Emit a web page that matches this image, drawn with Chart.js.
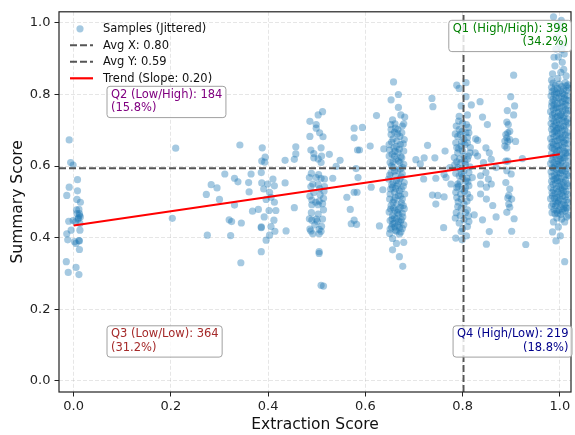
<!DOCTYPE html>
<html>
<head>
<meta charset="utf-8">
<script src="https://cdn.jsdelivr.net/npm/chart.js@4.4.1/dist/chart.umd.min.js"></script>
<style>
  html, body { margin: 0; padding: 0; background: #fff; }
  #wrap { width: 575px; height: 435px; }
</style>
</head>
<body>
<div id="wrap"><canvas id="chart"></canvas></div>
<script>
//
// DATA (x = extraction score, y = summary score, jittered)
//
const col_00 = [
    [-0.009,0.673],[-0.006,0.610],[-0.001,0.603],[0.008,0.562],[-0.009,0.541],[0.008,0.531],
    [-0.014,0.518],[0.007,0.507],[0.014,0.499],[0.011,0.479],[0.007,0.467],[0.012,0.467],
    [0.014,0.458],[0.009,0.452],[-0.010,0.446],[-0.001,0.448],[0.004,0.444],[-0.005,0.421],
    [0.013,0.421],[-0.014,0.411],[-0.012,0.394],[0.002,0.389],[0.012,0.391],[0.005,0.384],
    [0.012,0.367],[-0.015,0.333],[0.005,0.317],[-0.011,0.303],[0.011,0.297],[0.010,0.455],
    [0.013,0.440],[0.006,0.478],[0.012,0.462],[0.011,0.392]
];
const col_scattered = [
    [0.210,0.650],[0.342,0.659],[0.203,0.454],[0.311,0.578],[0.283,0.548],[0.295,0.539],
    [0.273,0.521],[0.300,0.507],[0.331,0.566],[0.338,0.556],[0.365,0.578],[0.360,0.554],
    [0.361,0.528],[0.331,0.491],[0.368,0.474],[0.320,0.450],[0.325,0.445],[0.345,0.441],
    [0.275,0.407],[0.323,0.406],[0.344,0.330]
];
const col_40 = [
    [0.388,0.651],[0.394,0.625],[0.387,0.614],[0.393,0.611],[0.457,0.654],[0.457,0.634],
    [0.454,0.619],[0.435,0.616],[0.386,0.582],[0.387,0.553],[0.399,0.550],[0.410,0.564],
    [0.413,0.545],[0.391,0.536],[0.403,0.527],[0.406,0.513],[0.435,0.553],[0.396,0.507],
    [0.413,0.499],[0.380,0.479],[0.402,0.476],[0.416,0.476],[0.454,0.484],[0.392,0.458],
    [0.412,0.449],[0.386,0.430],[0.406,0.431],[0.386,0.428],[0.414,0.418],[0.437,0.419],
    [0.403,0.407],[0.396,0.393],[0.386,0.361]
];
const col_50 = [
    [0.512,0.752],[0.503,0.743],[0.486,0.725],[0.499,0.716],[0.499,0.706],[0.506,0.693],
    [0.486,0.683],[0.513,0.682],[0.488,0.645],[0.509,0.651],[0.526,0.633],[0.494,0.623],
    [0.503,0.620],[0.509,0.610],[0.485,0.568],[0.499,0.568],[0.509,0.566],[0.516,0.564],
    [0.533,0.566],[0.492,0.550],[0.503,0.548],[0.488,0.543],[0.516,0.543],[0.506,0.537],
    [0.486,0.516],[0.514,0.510],[0.490,0.505],[0.505,0.502],[0.498,0.499],[0.512,0.495],
    [0.503,0.492],[0.490,0.492],[0.485,0.453],[0.499,0.452],[0.512,0.452],[0.490,0.449],
    [0.501,0.446],[0.486,0.424],[0.505,0.423],[0.488,0.419],[0.509,0.418],[0.505,0.411],
    [0.492,0.411],[0.505,0.361],[0.505,0.356],[0.509,0.267],[0.514,0.265],
    [0.494,0.635],[0.510,0.628],[0.489,0.580],[0.504,0.576],[0.515,0.530],[0.494,0.526],
    [0.507,0.520],[0.489,0.470],[0.503,0.466],[0.514,0.478],[0.496,0.436],[0.510,0.432]
];
const col_mid = [
    [0.577,0.706],[0.577,0.679],[0.594,0.708],[0.584,0.645],[0.588,0.645],[0.581,0.593],
    [0.585,0.568],[0.577,0.527],[0.583,0.527],[0.562,0.513],[0.569,0.479],[0.577,0.449],
    [0.571,0.439],[0.582,0.437],[0.540,0.599],[0.548,0.616],[0.623,0.741],[0.610,0.656],
    [0.629,0.433],[0.612,0.541],[0.636,0.534],[0.638,0.648]
];
const col_67 = [
    [0.658,0.835],[0.653,0.785],[0.668,0.800],[0.668,0.764],[0.673,0.743],[0.681,0.737],
    [0.656,0.729],[0.679,0.718],[0.661,0.718],
    [0.653,0.702],[0.667,0.702],[0.675,0.693],[0.660,0.695],[0.653,0.688],[0.680,0.674],
    [0.665,0.670],[0.649,0.660],[0.672,0.660],[0.659,0.651],[0.679,0.642],[0.667,0.637],
    [0.655,0.633],[0.675,0.623],[0.663,0.619],[0.651,0.610],[0.671,0.610],[0.679,0.605],
    [0.658,0.596],[0.667,0.587],[0.653,0.582],[0.676,0.578],[0.662,0.573],[0.648,0.564],
    [0.671,0.564],[0.680,0.554],[0.657,0.554],[0.665,0.545],[0.652,0.536],[0.674,0.536],
    [0.660,0.527],[0.681,0.522],[0.668,0.518],[0.650,0.508],[0.676,0.508],[0.657,0.499],
    [0.665,0.494],[0.653,0.490],[0.672,0.485],[0.680,0.481],[0.661,0.476],[0.649,0.472],
    [0.669,0.466],[0.656,0.462],[0.677,0.458],[0.664,0.453],[0.651,0.448],[0.672,0.444],
    [0.659,0.440],[0.667,0.435],[0.654,0.430],[0.676,0.426],[0.662,0.421],[0.650,0.412],
    [0.670,0.410],
    [0.662,0.706],[0.671,0.683],[0.657,0.676],[0.664,0.655],[0.650,0.645],[0.670,0.647],
    [0.660,0.628],[0.668,0.614],[0.654,0.601],[0.672,0.592],[0.664,0.560],[0.656,0.541],
    [0.670,0.531],[0.662,0.512],[0.674,0.497],[0.658,0.483],[0.666,0.470],[0.660,0.456],
    [0.674,0.450],[0.656,0.438],[0.670,0.428],[0.664,0.418],
    [0.652,0.716],[0.676,0.712],[0.666,0.690],[0.654,0.667],[0.678,0.662],[0.661,0.641],
    [0.649,0.628],[0.673,0.626],[0.657,0.612],[0.677,0.596],[0.660,0.586],[0.650,0.575],
    [0.674,0.570],[0.668,0.552],[0.654,0.548],[0.678,0.544],[0.662,0.537],[0.651,0.522],
    [0.672,0.516],[0.659,0.506],[0.678,0.490],[0.652,0.480],[0.667,0.478],[0.676,0.468],
    [0.655,0.452],[0.668,0.446],[0.679,0.436],[0.661,0.430],[0.651,0.424],[0.673,0.416],
    [0.656,0.398],[0.664,0.384],[0.679,0.387],[0.656,0.366],[0.670,0.347],[0.677,0.320]
];
const col_75 = [
    [0.737,0.789],[0.739,0.766],[0.728,0.658],[0.704,0.618],[0.713,0.606],[0.721,0.623],
    [0.743,0.623],[0.764,0.642],[0.720,0.564],[0.745,0.566],[0.762,0.577],[0.774,0.596],
    [0.766,0.568],[0.738,0.519],[0.749,0.518],[0.762,0.514],[0.745,0.494],[0.761,0.428],
    [0.776,0.550]
];
const col_80 = [
    [0.788,0.826],[0.793,0.817],[0.807,0.833],[0.797,0.768],[0.818,0.771],[0.807,0.794],
    [0.793,0.739],[0.810,0.743],[0.793,0.702],[0.799,0.697],[0.807,0.693],[0.813,0.693],
    [0.790,0.683],[0.803,0.674],[0.786,0.665],[0.810,0.665],[0.797,0.656],[0.815,0.637],
    [0.790,0.637],[0.803,0.628],[0.783,0.624],[0.810,0.619],[0.797,0.610],[0.790,0.596],
    [0.803,0.587],[0.813,0.582],[0.793,0.573],[0.807,0.559],[0.790,0.550],[0.813,0.545],
    [0.799,0.536],[0.786,0.527],[0.810,0.522],[0.797,0.508],[0.803,0.494],[0.790,0.487],
    [0.810,0.478],[0.793,0.441],[0.803,0.450],[0.813,0.445],[0.797,0.417],[0.786,0.399],
    [0.799,0.394],[0.810,0.431],
    [0.800,0.720],[0.787,0.712],[0.812,0.708],[0.795,0.688],[0.805,0.660],[0.792,0.648],
    [0.816,0.652],[0.800,0.642],[0.788,0.612],[0.806,0.604],[0.796,0.592],[0.815,0.598],
    [0.786,0.580],[0.800,0.570],[0.809,0.566],[0.795,0.556],[0.788,0.540],[0.804,0.530],
    [0.815,0.512],[0.791,0.500],[0.806,0.470],[0.795,0.462],[0.785,0.455],[0.800,0.425],
    [0.808,0.405],
    [0.792,0.726],[0.808,0.716],[0.785,0.690],[0.810,0.680],[0.798,0.668],[0.788,0.652],
    [0.812,0.628],[0.794,0.620],[0.805,0.612],[0.784,0.604],[0.798,0.578],[0.811,0.556],
    [0.791,0.544],[0.806,0.540],[0.796,0.522],[0.788,0.512],[0.809,0.502],[0.797,0.482],
    [0.787,0.470],[0.812,0.460]
];
const col_85 = [
    [0.836,0.780],[0.841,0.737],[0.851,0.716],[0.831,0.672],[0.827,0.676],[0.848,0.651],
    [0.855,0.637],[0.826,0.637],[0.831,0.628],[0.843,0.610],[0.869,0.596],[0.859,0.619],
    [0.837,0.573],[0.848,0.582],[0.820,0.568],[0.853,0.564],[0.837,0.550],[0.859,0.550],
    [0.849,0.541],[0.837,0.522],[0.849,0.508],[0.862,0.490],[0.824,0.464],[0.841,0.450],
    [0.869,0.458],[0.855,0.417],[0.849,0.382]
];
const col_90 = [
    [0.905,0.854],[0.899,0.794],[0.892,0.755],[0.905,0.743],[0.907,0.768],[0.891,0.723],
    [0.894,0.716],[0.889,0.688],[0.893,0.693],[0.891,0.679],[0.897,0.697],[0.887,0.670],
    [0.893,0.669],[0.897,0.674],[0.909,0.669],[0.887,0.656],[0.891,0.651],[0.889,0.614],
    [0.893,0.614],[0.923,0.621],[0.891,0.587],[0.900,0.578],[0.889,0.554],[0.897,0.536],
    [0.895,0.518],[0.893,0.511],[0.901,0.508],[0.895,0.494],[0.897,0.485],[0.891,0.471],
    [0.906,0.453],[0.901,0.418],[0.930,0.381]
];
const col_100_tails = [
    [0.987,1.017],[1.003,1.007],[0.995,0.996],[0.999,0.983],[0.994,0.960],[0.999,0.941],
    [1.009,0.941],[0.992,0.927],[0.988,0.904],[1.005,0.890],[1.009,0.913],[0.985,0.858],
    [0.996,0.845],[1.008,0.870],[0.990,0.880],[1.013,0.852],[0.983,0.840],[1.002,0.862],
    [0.997,0.905],[1.004,0.925],
    [0.987,0.444],[0.997,0.430],[1.010,0.444],[0.985,0.416],[0.992,0.391],[1.010,0.333],
    [1.004,0.452],[0.994,0.455],[1.014,0.458],[1.001,0.405]
];
const col_100_core = [
    [0.986,0.832],[0.999,0.829],[1.011,0.833],[1.017,0.827],[0.991,0.825],[1.004,0.822],[0.983,0.820],[1.013,0.824],
    [0.995,0.817],[1.008,0.815],[0.988,0.813],[1.018,0.818],[1.001,0.810],[0.984,0.808],[1.014,0.811],[0.993,0.806],
    [1.006,0.803],[0.989,0.801],[1.010,0.799],[0.997,0.804],[0.982,0.796],[1.003,0.794],[1.016,0.797],[0.992,0.792],
    [1.009,0.789],[0.986,0.787],[0.998,0.790],[1.013,0.785],[0.990,0.782],[1.005,0.780],[0.984,0.778],[1.017,0.783],
    [0.996,0.775],[1.011,0.773],[0.988,0.771],[1.002,0.776],[0.983,0.768],[1.007,0.766],[0.994,0.764],[1.015,0.769],
    [1.000,0.761],[0.987,0.759],[1.012,0.757],[0.992,0.762],[1.006,0.754],[0.981,0.752],[0.997,0.750],[1.018,0.755],
    [0.989,0.747],[1.003,0.745],[1.014,0.748],[0.985,0.743],[0.995,0.740],[1.009,0.738],[0.991,0.736],[1.001,0.741],
    [0.984,0.733],[1.016,0.731],[0.998,0.729],[1.007,0.734],[0.988,0.726],[1.012,0.724],[0.993,0.722],[1.004,0.727],
    [0.982,0.719],[0.999,0.717],[1.017,0.720],[0.990,0.715],[1.008,0.712],[0.986,0.710],[1.002,0.708],[1.013,0.713],
    [0.994,0.705],[0.983,0.703],[1.010,0.701],[0.997,0.706],[1.005,0.698],[0.989,0.696],[1.015,0.694],[0.992,0.699],
    [0.985,0.691],[1.001,0.689],[1.011,0.687],[0.996,0.692],[1.018,0.684],[0.988,0.682],[1.006,0.680],[0.993,0.685],
    [0.981,0.677],[0.999,0.675],[1.013,0.673],[1.003,0.678],[0.990,0.670],[1.008,0.668],[0.984,0.666],[0.995,0.671],
    [1.016,0.663],[0.987,0.661],[1.002,0.659],[1.010,0.664],[0.994,0.656],[0.982,0.654],[1.006,0.652],[0.998,0.657],
    [1.014,0.649],[0.989,0.647],[1.000,0.645],[0.985,0.650],[1.009,0.642],[0.993,0.640],[1.017,0.638],[0.996,0.643],
    [0.983,0.635],[1.004,0.633],[0.991,0.631],[1.012,0.636],[0.999,0.628],[0.986,0.626],[1.007,0.624],[1.015,0.629],
    [0.992,0.621],[1.001,0.619],[0.984,0.617],[1.010,0.622],[0.997,0.614],[1.018,0.612],[0.988,0.610],[1.005,0.615],
    [0.981,0.607],[0.995,0.605],[1.013,0.603],[1.002,0.608],[0.990,0.600],[1.008,0.598],[0.985,0.596],[0.999,0.601],
    [1.016,0.593],[0.993,0.591],[1.004,0.589],[0.987,0.594],[1.011,0.586],[0.982,0.584],[0.998,0.582],[1.006,0.587],
    [0.994,0.579],[1.014,0.577],[0.989,0.575],[1.001,0.580],[0.984,0.572],[1.009,0.570],[0.996,0.568],[1.017,0.573],
    [1.003,0.565],[0.988,0.563],[1.012,0.561],[0.992,0.566],[0.983,0.558],[1.000,0.556],[1.007,0.554],[0.995,0.559],
    [1.015,0.551],[0.986,0.549],[1.004,0.547],[0.991,0.552],[0.998,0.544],[1.010,0.542],[0.982,0.540],[1.018,0.545],
    [0.993,0.537],[1.005,0.535],[0.987,0.533],[1.001,0.538],[1.013,0.530],[0.996,0.528],[0.984,0.526],[1.008,0.531],
    [0.990,0.523],[1.016,0.521],[0.999,0.519],[1.003,0.524],[0.985,0.516],[1.011,0.514],[0.994,0.512],[1.006,0.517],
    [0.981,0.509],[1.000,0.507],[1.014,0.505],[0.989,0.510],[1.007,0.502],[0.992,0.500],[1.017,0.498],[0.997,0.503],
    [0.986,0.495],[1.004,0.493],[1.010,0.491],[0.995,0.496],[0.983,0.488],[1.001,0.486],[1.013,0.484],[0.991,0.489],
    [1.008,0.481],[0.988,0.479],[0.998,0.477],[1.015,0.482],[0.994,0.474],[1.005,0.472],[0.984,0.470],[1.011,0.475],
    [0.990,0.467],[1.002,0.465],[1.018,0.463],[0.996,0.468]
];

const avg_x = 0.802;
const avg_y = 0.594;
const trend_x = [0.0, 1.0];
const trend_y = [0.434, 0.633];

const x_range = [-0.030, 1.023];
const y_range = [-0.031, 1.031];
const tick_values = [0.0, 0.2, 0.4, 0.6, 0.8, 1.0];

const quad_names = ["Q1 (High/High)", "Q2 (Low/High)", "Q3 (Low/Low)", "Q4 (High/Low)"];
const quad_counts = [398, 184, 364, 219];
const quad_pcts = [34.2, 15.8, 31.2, 18.8];
const quad_colors = ["#008000", "#800080", "#a52a2a", "#00008b"];

//
// BUILD DATASETS
//
const all_samples = [
    ...col_00, ...col_scattered, ...col_40, ...col_50, ...col_mid, ...col_67,
    ...col_75, ...col_80, ...col_85, ...col_90, ...col_100_tails, ...col_100_core
].map(([x, y]) => ({ x, y }));

const slope = (trend_y[1] - trend_y[0]) / (trend_x[1] - trend_x[0]);

const FONT = "'DejaVu Sans', sans-serif";
const POINT_FILL = "rgba(31,119,180,0.4)";
const AVG_COLOR = "#555555";
const AVG_DASH = [7, 3];

const datasets = [
    {
        label: "Samples (Jittered)",
        data: all_samples,
        backgroundColor: POINT_FILL,
        borderWidth: 0,
        pointRadius: 3.6,
        order: 3
    },
    {
        label: "Avg X: " + (Math.round(avg_x * 100) / 100).toFixed(2),
        data: [{ x: avg_x, y: y_range[0] }, { x: avg_x, y: y_range[1] }],
        showLine: true,
        borderColor: AVG_COLOR,
        borderWidth: 1.9,
        borderDash: AVG_DASH,
        pointRadius: 0,
        order: 2
    },
    {
        label: "Avg Y: " + avg_y.toFixed(2),
        data: [{ x: x_range[0], y: avg_y }, { x: x_range[1], y: avg_y }],
        showLine: true,
        borderColor: AVG_COLOR,
        borderWidth: 1.9,
        borderDash: AVG_DASH,
        pointRadius: 0,
        order: 1
    },
    {
        label: "Trend (Slope: " + slope.toFixed(2) + ")",
        data: trend_x.map((x, i) => ({ x, y: trend_y[i] })),
        showLine: true,
        borderColor: "#ff0000",
        borderWidth: 2.2,
        pointRadius: 0,
        order: 0
    }
];

//
// OVERLAY: FRAME, LEGEND, QUADRANT NOTES
//
function rounded_rect(ctx, x, y, w, h, r) {
    ctx.beginPath();
    ctx.moveTo(x + r, y);
    ctx.lineTo(x + w - r, y);
    ctx.arcTo(x + w, y, x + w, y + r, r);
    ctx.lineTo(x + w, y + h - r);
    ctx.arcTo(x + w, y + h, x + w - r, y + h, r);
    ctx.lineTo(x + r, y + h);
    ctx.arcTo(x, y + h, x, y + h - r, r);
    ctx.lineTo(x, y + r);
    ctx.arcTo(x, y, x + r, y, r);
    ctx.closePath();
}

function draw_note(ctx, lines, anchor_x, first_y, align, color) {
    ctx.font = "11.5px " + FONT;
    const w = Math.max(...lines.map(t => ctx.measureText(t).width));
    const left = align === "right" ? anchor_x - w : anchor_x;
    const top = first_y - 8.5;
    const bottom = first_y + 13.3 * (lines.length - 1) + 9.5;
    rounded_rect(ctx, left - 4, top, w + 7.5, bottom - top, 3);
    ctx.fillStyle = "rgba(255,255,255,0.8)";
    ctx.fill();
    ctx.strokeStyle = "#a0a0a0";
    ctx.lineWidth = 1;
    ctx.stroke();
    ctx.fillStyle = color;
    ctx.textAlign = align;
    ctx.textBaseline = "middle";
    lines.forEach((t, i) => ctx.fillText(t, anchor_x, first_y + 13.3 * i));
}

const overlay_plugin = {
    id: "overlay",
    afterDatasetsDraw(chart) {
        const { ctx, chartArea: a } = chart;
        ctx.save();

        // frame (all four spines)
        ctx.strokeStyle = "#222";
        ctx.lineWidth = 1.2;
        ctx.strokeRect(a.left, a.top, a.right - a.left, a.bottom - a.top);

        // quadrant notes
        const note = i => [quad_names[i] + ": " + quad_counts[i], "(" + quad_pcts[i].toFixed(1) + "%)"];
        draw_note(ctx, note(0), a.right - 3, a.top + 17, "right", quad_colors[0]);
        draw_note(ctx, note(1), a.left + 52, a.top + 83, "left", quad_colors[1]);
        draw_note(ctx, note(2), a.left + 52, a.bottom - 57.7, "left", quad_colors[2]);
        draw_note(ctx, note(3), a.right - 2.5, a.bottom - 57.7, "right", quad_colors[3]);

        // legend
        const ds = chart.data.datasets;
        const rows = [a.top + 17, a.top + 33.5, a.top + 50, a.top + 66.5];
        ctx.font = "11.5px " + FONT;
        ctx.textAlign = "left";
        ctx.textBaseline = "middle";
        ds.forEach((d, i) => {
            const y = rows[i];
            if (i === 0) {
                ctx.beginPath();
                ctx.arc(a.left + 21, y, 3.6, 0, Math.PI * 2);
                ctx.fillStyle = d.backgroundColor;
                ctx.fill();
            } else {
                ctx.beginPath();
                ctx.setLineDash(d.borderDash || []);
                ctx.strokeStyle = d.borderColor;
                ctx.lineWidth = d.borderWidth;
                ctx.moveTo(a.left + 11, y);
                ctx.lineTo(a.left + 34, y);
                ctx.stroke();
                ctx.setLineDash([]);
            }
            ctx.fillStyle = "#111";
            ctx.fillText(d.label, a.left + 44, y + 0.5);
        });

        ctx.restore();
    }
};

//
// CHART
//
const axis_common = (title, is_x) => ({
    type: "linear",
    min: is_x ? x_range[0] : y_range[0],
    max: is_x ? x_range[1] : y_range[1],
    afterBuildTicks: scale => { scale.ticks = tick_values.map(v => ({ value: v })); },
    afterFit: scale => {
        if (is_x) scale.height = 43; else scale.width = 59;
    },
    ticks: {
        color: "#222",
        font: { family: FONT, size: 13 },
        padding: is_x ? 2.5 : 4,
        callback: v => Number(v).toFixed(1)
    },
    grid: {
        color: "rgba(150,150,150,0.3)",
        lineWidth: 0.8,
        drawTicks: true,
        tickLength: 4.5,
        tickColor: "#222",
        tickWidth: 1
    },
    border: { display: false, dash: [4, 2] },
    title: {
        display: true,
        text: title,
        color: "#111",
        font: { family: FONT, size: 15.5 },
        padding: is_x ? { top: 0, bottom: 1 } : { top: 9, bottom: 0 }
    }
});

new Chart(document.getElementById("chart"), {
    type: "scatter",
    data: { datasets },
    options: {
        responsive: true,
        maintainAspectRatio: false,
        animation: false,
        devicePixelRatio: 1,
        layout: { padding: { top: 7, right: 3, left: 0, bottom: 0 } },
        scales: {
            x: axis_common("Extraction Score", true),
            y: axis_common("Summary Score", false)
        },
        plugins: {
            legend: { display: false },
            tooltip: { enabled: false }
        },
        events: []
    },
    plugins: [overlay_plugin]
});
</script>
</body>
</html>
